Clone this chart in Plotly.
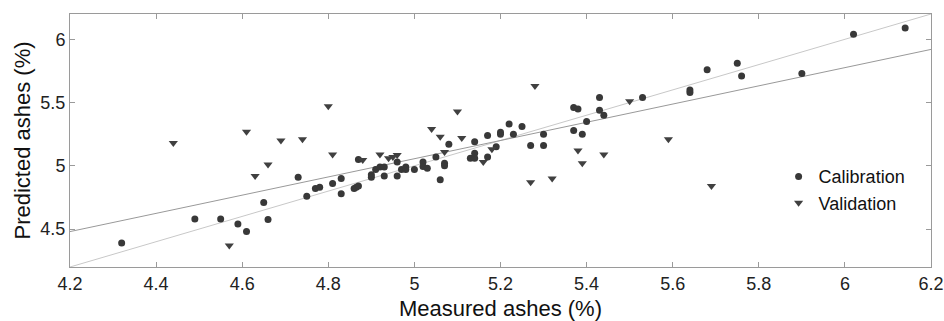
import plotly.graph_objects as go

cal_x = [4.32, 4.49, 4.55, 4.59, 4.61, 4.65, 4.66, 4.73, 4.75, 4.77, 4.78,
         4.81, 4.83, 4.83, 4.86, 4.865, 4.87, 4.87, 4.90, 4.90, 4.91, 4.92, 4.93, 4.93,
         4.96, 4.96, 4.97, 4.98, 4.98, 5.00, 5.02, 5.02, 5.03, 5.05, 5.06, 5.07, 5.07,
         5.08, 5.13, 5.14, 5.14, 5.14, 5.17, 5.17, 5.19, 5.20, 5.20, 5.22, 5.23, 5.25,
         5.27, 5.30, 5.30, 5.37, 5.37, 5.38, 5.39, 5.40, 5.43, 5.43, 5.44,
         5.53, 5.64, 5.64, 5.68, 5.75, 5.76, 5.90, 6.02, 6.14]
cal_y = [4.39, 4.58, 4.58, 4.54, 4.48, 4.71, 4.575, 4.91, 4.76, 4.82, 4.83,
         4.86, 4.90, 4.78, 4.82, 4.83, 4.84, 5.05, 4.93, 4.91, 4.97, 4.99, 4.99, 4.92,
         5.03, 4.92, 4.97, 4.97, 4.99, 4.97, 5.03, 4.995, 4.98, 5.07, 4.89, 5.02, 5.00,
         5.17, 5.06, 5.06, 5.10, 5.19, 5.07, 5.24, 5.15, 5.265, 5.25, 5.33, 5.25, 5.31,
         5.16, 5.25, 5.16, 5.28, 5.46, 5.45, 5.25, 5.35, 5.54, 5.44, 5.40,
         5.54, 5.60, 5.58, 5.76, 5.81, 5.71, 5.73, 6.04, 6.09]

val_x = [4.44, 4.57, 4.61, 4.63, 4.66, 4.69, 4.74, 4.80, 4.81, 4.88, 4.92,
         4.94, 4.95, 4.96, 5.04, 5.06, 5.07, 5.10, 5.11, 5.16, 5.18, 5.27, 5.28,
         5.32, 5.38, 5.39, 5.44, 5.50, 5.59, 5.69]
val_y = [5.18, 4.37, 5.27, 4.92, 5.01, 5.20, 5.21, 5.47, 5.09, 5.045, 5.09,
         5.06, 5.07, 5.085, 5.29, 5.23, 5.11, 5.43, 5.22, 5.03, 5.13, 4.87, 5.63,
         4.90, 5.12, 5.02, 5.09, 5.51, 5.21, 4.84]

fit_x = [4.2, 6.2]
fit_y = [4.48, 5.92]
ident = [4.2, 6.2]

ticks = [4.2, 4.4, 4.6, 4.8, 5.0, 5.2, 5.4, 5.6, 5.8, 6.0, 6.2]
tick_text = ["4.2", "4.4", "4.6", "4.8", "5", "5.2", "5.4", "5.6", "5.8", "6", "6.2"]
yticks = [4.5, 5.0, 5.5, 6.0]
ytick_text = ["4.5", "5", "5.5", "6"]

fig = go.Figure()
fig.add_trace(go.Scatter(x=ident, y=ident, mode="lines",
                         line=dict(color="#c8c8c8", width=1), showlegend=False, hoverinfo="skip"))
fig.add_trace(go.Scatter(x=fit_x, y=fit_y, mode="lines",
                         line=dict(color="#999999", width=1), showlegend=False, hoverinfo="skip"))
fig.add_trace(go.Scatter(x=cal_x, y=cal_y, mode="markers", name="Calibration",
                         marker=dict(symbol="circle", size=7, color="#383838")))
fig.add_trace(go.Scatter(x=val_x, y=val_y, mode="markers", name="Validation",
                         marker=dict(symbol="triangle-down", size=8, color="#404040")))

axis_common = dict(showgrid=False, zeroline=False, showline=True, linecolor="#9a9a9a",
                   linewidth=1, mirror="ticks", ticks="inside", ticklen=5,
                   tickcolor="#9a9a9a", tickfont=dict(size=18, color="#222"),
                   automargin=False)

fig.update_xaxes(range=[4.2, 6.2], tickvals=ticks, ticktext=tick_text,
                 title=dict(text="Measured ashes (%)", font=dict(size=22, color="#111"), standoff=8),
                 **axis_common)
fig.update_yaxes(range=[4.2, 6.2], tickvals=yticks, ticktext=ytick_text,
                 title=dict(text="Predicted ashes (%)", font=dict(size=22, color="#111"), standoff=3),
                 **axis_common)

fig.update_layout(
    width=944, height=321,
    margin=dict(l=70, r=13, t=14, b=54),
    plot_bgcolor="white", paper_bgcolor="white",
    font=dict(family="Liberation Sans, Arial, sans-serif"),
    legend=dict(x=0.823, y=0.43, xanchor="left", yanchor="top",
                bgcolor="rgba(0,0,0,0)", font=dict(size=18, color="#111"),
                itemwidth=30, tracegroupgap=0),
)

fig.write_html("out.html")
